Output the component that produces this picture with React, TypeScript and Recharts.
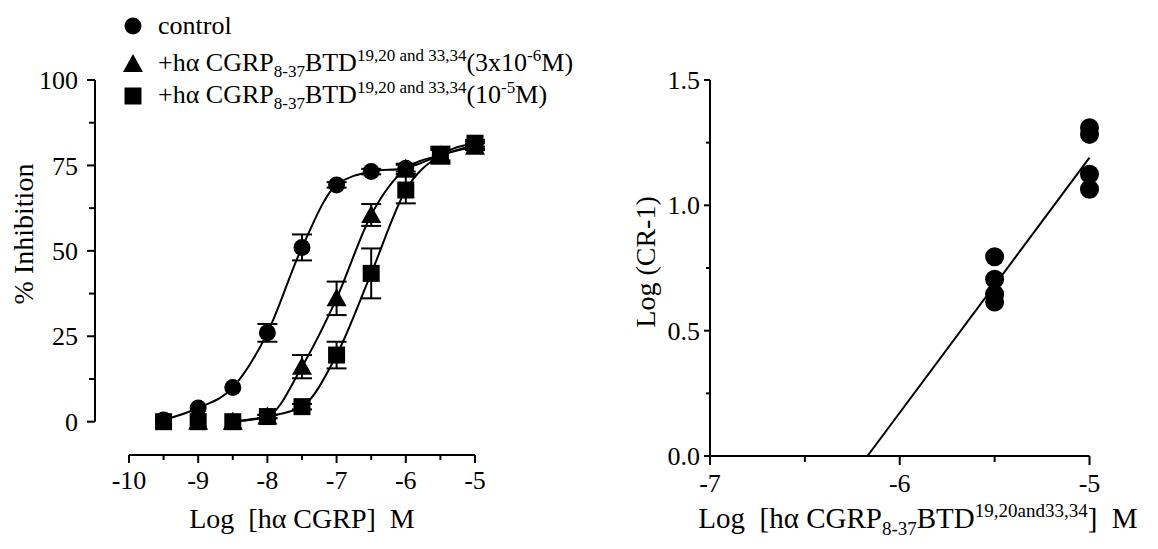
import React from 'react';
import { ComposedChart, Line, Scatter, XAxis, YAxis, ErrorBar, ReferenceLine, Legend, Label } from 'recharts';

const SERIF = "'Liberation Serif', 'DejaVu Serif', 'Times New Roman', serif";

// left panel: % inhibition vs log [hα CGRP] M
const logDose = [-9.5, -9, -8.5, -8, -7.5, -7, -6.5, -6, -5.5, -5];
const controlMean = [0.5, 4, 10, 26, 51, 69.3, 73.2, 74.2, 78, 81];
const controlSem = [0, 0, 0, 2.6, 3.8, 0.8, 0.8, 1, 1.5, 1];

const logDoseTri = [-9, -8.5, -8, -7.5, -7, -6.5, -6, -5.5, -5];
const triMean = [0, 0, 1.5, 16.1, 36.1, 60.5, 74, 78, 80.5];
const triSem = [0, 0, 0.5, 3.4, 4.9, 3.2, 1.5, 2, 1];

const squareMean = [0, 0, 0, 1.5, 4.4, 19.5, 43.4, 67.8, 78, 81.5];
const squareSem = [0, 0, 0, 0.5, 0.8, 3.9, 7.3, 3.9, 2.5, 1];

const leftXTicks = [-10, -9.5, -9, -8.5, -8, -7.5, -7, -6.5, -6, -5.5, -5];
const leftYTicks = [0, 12.5, 25, 37.5, 50, 62.5, 75, 87.5, 100];

// right panel: Schild plot
const antagonistLog = [-5.5, -5.5, -5.5, -5.5, -5, -5, -5, -5];
const logCR = [0.795, 0.705, 0.645, 0.614, 1.31, 1.283, 1.124, 1.064];
const fitX = [-6.17, -5];
const fitY = [0, 1.19];

const rightXTicks = [-7, -6.5, -6, -5.5, -5];
const rightYTicks = [0, 0.25, 0.5, 0.75, 1, 1.25, 1.5];

const pts = (xs: number[], ys: number[], es?: number[]) =>
  xs.map((x, i) => ({ x, y: ys[i], sem: es ? es[i] : 0 }));

const controlPts = pts(logDose, controlMean, controlSem);
const triPts = pts(logDoseTri, triMean, triSem);
const squarePts = pts(logDose, squareMean, squareSem);
const schildPts = pts(antagonistLog, logCR);
const fitPts = pts(fitX, fitY);

const font = { fontFamily: SERIF, fill: '#000' };

const Dot = (p: any) => <circle cx={p.cx} cy={p.cy} r={p.r || 8.5} fill="#000" />;
const Tri = (p: any) => (
  <polygon points={`${p.cx},${p.cy - 10} ${p.cx - 10},${p.cy + 8} ${p.cx + 10},${p.cy + 8}`} fill="#000" />
);
const Sq = (p: any) => <rect x={p.cx - 8.5} y={p.cy - 8.5} width={17} height={17} fill="#000" />;

function bottomTick(label: (v: number) => string | null, len: number, gap: number) {
  return (p: any) => {
    const v = p.payload.value;
    const lab = label(v);
    return (
      <g>
        <line x1={p.x} y1={p.y} x2={p.x} y2={p.y + (lab ? len : len - 3)} stroke="#000" strokeWidth={2} />
        {lab && (
          <text x={p.x} y={p.y + gap} textAnchor="middle" fontSize={26} {...font}>
            {lab}
          </text>
        )}
      </g>
    );
  };
}

function leftTick(label: (v: number) => string | null, len: number, gap: number) {
  return (p: any) => {
    const v = p.payload.value;
    const lab = label(v);
    return (
      <g>
        <line x1={p.x - (lab ? len : len - 2)} y1={p.y} x2={p.x} y2={p.y} stroke="#000" strokeWidth={2} />
        {lab && (
          <text x={p.x - gap} y={p.y} dy="0.35em" textAnchor="end" fontSize={26} {...font}>
            {lab}
          </text>
        )}
      </g>
    );
  };
}

const LegendBox = () => {
  const row = (top: number): React.CSSProperties => ({
    position: 'absolute', left: 122, top, height: 34, display: 'flex', alignItems: 'center', whiteSpace: 'nowrap',
  });
  const small: React.CSSProperties = { fontSize: 17 };
  return (
    <div style={{ fontFamily: SERIF, fontSize: 26, color: '#000', position: 'relative', width: 640, height: 120 }}>
      <div style={row(9)}>
        <svg width={22} height={22}><circle cx={11} cy={11} r={8.5} fill="#000" /></svg>
        <span style={{ marginLeft: 14 }}>control</span>
      </div>
      <div style={row(47)}>
        <svg width={22} height={22}><polygon points="11,1 1,19 21,19" fill="#000" /></svg>
        <span style={{ marginLeft: 14 }}>
          +hα CGRP<sub style={small}>8-37</sub>BTD<sup style={small}>19,20 and 33,34</sup>(3x10<sup style={small}>-6</sup>M)
        </span>
      </div>
      <div style={row(79)}>
        <svg width={22} height={22}><rect x={2.5} y={2.5} width={17} height={17} fill="#000" /></svg>
        <span style={{ marginLeft: 14 }}>
          +hα CGRP<sub style={small}>8-37</sub>BTD<sup style={small}>19,20 and 33,34</sup>(10<sup style={small}>-5</sup>M)
        </span>
      </div>
    </div>
  );
};

export default function App() {
  return (
    <div style={{ position: 'absolute', left: 0, top: 0, width: 1158, height: 549, background: '#fff' }}>
      <div style={{ position: 'absolute', left: 0, top: 0 }}>
        <ComposedChart width={560} height={549} margin={{ top: 80, right: 85, bottom: 54, left: 55 }}>
          <XAxis
            dataKey="x" type="number" domain={[-10.491, -5]} ticks={leftXTicks} interval={0}
            axisLine={false} tickLine={false} tickSize={0} tickMargin={0} height={40}
            tick={bottomTick((v) => (Number.isInteger(v) ? String(v) : null), 8, 34)}
          >
            <Label content={() => (
              <text x={302} y={528} textAnchor="middle" fontSize={28} {...font}>Log{'\u00a0\u00a0'}[hα CGRP]{'\u00a0\u00a0'}M</text>
            )} />
          </XAxis>
          <YAxis
            type="number" domain={[-9.75, 100]} ticks={leftYTicks} interval={0}
            axisLine={false} tickLine={false} tickSize={0} tickMargin={0} width={40}
            tick={leftTick((v) => (v % 25 === 0 ? String(v) : null), 8, 17)}
          >
            <Label content={() => (
              <text x={33} y={234} transform="rotate(-90 33 234)" textAnchor="middle" fontSize={28} {...font}>% Inhibition</text>
            )} />
          </YAxis>
          <ReferenceLine segment={[{ x: -10, y: -9.75 }, { x: -5, y: -9.75 }]} stroke="#000" strokeWidth={2} ifOverflow="visible" />
          <ReferenceLine segment={[{ x: -10.491, y: 0 }, { x: -10.491, y: 100 }]} stroke="#000" strokeWidth={2} ifOverflow="visible" />

          <Line data={controlPts} dataKey="y" type="monotone" stroke="#000" strokeWidth={2} dot={false} isAnimationActive={false} legendType="none" />
          <Line data={triPts.slice(1)} dataKey="y" type="monotone" stroke="#000" strokeWidth={2} dot={false} isAnimationActive={false} legendType="none" />
          <Line data={squarePts.slice(2)} dataKey="y" type="monotone" stroke="#000" strokeWidth={2} dot={false} isAnimationActive={false} legendType="none" />

          <Scatter data={controlPts} dataKey="y" shape={Dot} isAnimationActive={false} name="control">
            <ErrorBar dataKey="sem" direction="y" width={10} stroke="#000" strokeWidth={2} isAnimationActive={false} />
          </Scatter>
          <Scatter data={triPts} dataKey="y" shape={Tri} isAnimationActive={false} name="3x10-6M">
            <ErrorBar dataKey="sem" direction="y" width={10} stroke="#000" strokeWidth={2} isAnimationActive={false} />
          </Scatter>
          <Scatter data={squarePts} dataKey="y" shape={Sq} isAnimationActive={false} name="10-5M">
            <ErrorBar dataKey="sem" direction="y" width={10} stroke="#000" strokeWidth={2} isAnimationActive={false} />
          </Scatter>

          <Legend
            layout="vertical" align="center" verticalAlign="middle"
            wrapperStyle={{ left: 0, top: 0, width: 640, height: 120 }}
            content={() => <LegendBox />}
          />
        </ComposedChart>
      </div>

      <div style={{ position: 'absolute', left: 560, top: 0 }}>
        <ComposedChart width={598} height={549} margin={{ top: 80, right: 68.5, bottom: 53, left: 110 }}>
          <XAxis
            dataKey="x" type="number" domain={[-7, -5]} ticks={rightXTicks} interval={0}
            axisLine={{ stroke: '#000', strokeWidth: 2 }} tickLine={false} tickSize={0} tickMargin={0} height={40}
            tick={bottomTick((v) => (Number.isInteger(v) ? String(v) : null), 9, 36)}
          >
            <Label content={() => (
              <text x={358} y={528} textAnchor="middle" fontSize={29} {...font}>
                Log{'\u00a0\u00a0'}[hα CGRP
                <tspan dy={7} fontSize={19}>8-37</tspan>
                <tspan dy={-7}>BTD</tspan>
                <tspan dy={-11} fontSize={19}>19,20and33,34</tspan>
                <tspan dy={11}>]{'\u00a0\u00a0'}M</tspan>
              </text>
            )} />
          </XAxis>
          <YAxis
            type="number" domain={[0, 1.5]} ticks={rightYTicks} interval={0}
            axisLine={{ stroke: '#000', strokeWidth: 2 }} tickLine={false} tickSize={0} tickMargin={0} width={40}
            tick={leftTick((v) => (Math.abs(v * 2 - Math.round(v * 2)) < 1e-9 ? v.toFixed(1) : null), 6, 10)}
          >
            <Label content={() => (
              <text x={95} y={262} transform="rotate(-90 95 262)" textAnchor="middle" fontSize={28} {...font}>Log (CR-1)</text>
            )} />
          </YAxis>

          <Line data={fitPts} dataKey="y" type="linear" stroke="#000" strokeWidth={2} dot={false} isAnimationActive={false} legendType="none" />
          <Scatter data={schildPts} dataKey="y" shape={(p: any) => <Dot {...p} r={9.5} />} isAnimationActive={false} />
        </ComposedChart>
      </div>
    </div>
  );
}
